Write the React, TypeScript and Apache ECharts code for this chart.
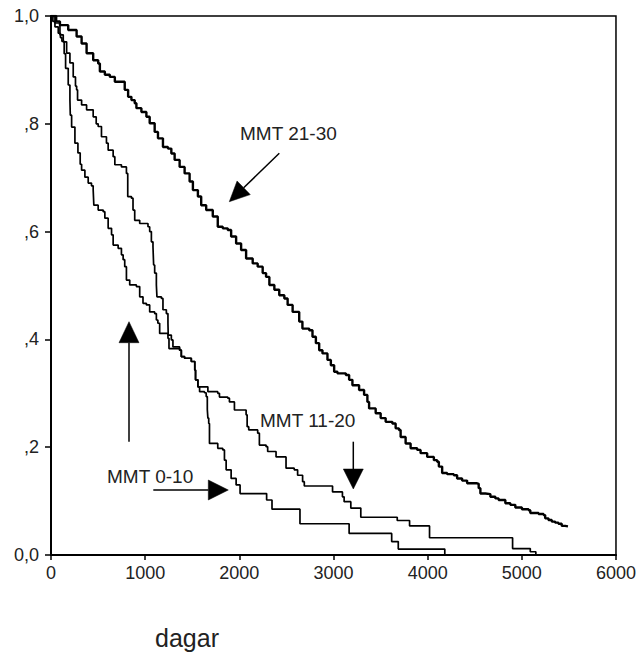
import React, { useEffect, useRef } from "react";
import * as echarts from "echarts";

// x ticks (dagar) and y ticks (cumulative survival)
const xTicks = [0, 1000, 2000, 3000, 4000, 5000, 6000];
const yTicks = [0, 0.2, 0.4, 0.6, 0.8, 1.0];

// Kaplan-Meier steps: [time of event (days), survival after event]
const mmt0_10: [number, number][] = [
  [0, 1], [20, 0.99], [42, 0.98], [77, 0.968], [100, 0.96], [116, 0.953], [140, 0.93], [155, 0.903],
  [183, 0.872], [201, 0.844], [205, 0.816], [219, 0.794], [254, 0.764], [286, 0.746], [310, 0.725],
  [325, 0.714], [360, 0.701], [395, 0.69], [430, 0.685], [448, 0.677], [455, 0.649], [501, 0.64],
  [554, 0.637], [572, 0.625], [607, 0.606], [643, 0.594], [660, 0.575], [713, 0.569], [748, 0.557],
  [766, 0.548], [783, 0.535], [801, 0.51], [836, 0.501], [907, 0.498], [942, 0.479], [977, 0.467],
  [1013, 0.464], [1048, 0.451], [1101, 0.448], [1119, 0.436], [1135, 0.43], [1154, 0.411],
  [1242, 0.402], [1253, 0.383], [1366, 0.38], [1384, 0.368], [1419, 0.365], [1490, 0.359],
  [1527, 0.343], [1535, 0.325], [1560, 0.312], [1578, 0.303], [1630, 0.301], [1648, 0.294],
  [1660, 0.27], [1666, 0.254], [1675, 0.244], [1683, 0.207], [1771, 0.198], [1824, 0.195],
  [1842, 0.176], [1860, 0.158], [1913, 0.142], [1966, 0.13], [2008, 0.114], [2290, 0.102],
  [2347, 0.085], [2644, 0.058], [3166, 0.04], [3618, 0.025], [3688, 0.011], [4182, 0.0],
];

const mmt11_20: [number, number][] = [
  [0, 1], [42, 0.987], [95, 0.965], [130, 0.952], [166, 0.931], [201, 0.913], [236, 0.887],
  [260, 0.87], [272, 0.863], [282, 0.844], [325, 0.835], [378, 0.826], [448, 0.813], [480, 0.8],
  [501, 0.795], [536, 0.776], [589, 0.764], [607, 0.751], [660, 0.739], [678, 0.724], [748, 0.72],
  [801, 0.708], [815, 0.665], [854, 0.662], [871, 0.64], [889, 0.621], [942, 0.615], [1030, 0.609],
  [1048, 0.6], [1066, 0.581], [1083, 0.572], [1090, 0.538], [1101, 0.523], [1119, 0.501],
  [1125, 0.479], [1172, 0.476], [1189, 0.455], [1225, 0.448], [1242, 0.43], [1245, 0.408],
  [1278, 0.399], [1295, 0.386], [1366, 0.38], [1384, 0.368], [1419, 0.365], [1490, 0.359],
  [1527, 0.343], [1535, 0.325], [1560, 0.312], [1666, 0.303], [1771, 0.3], [1789, 0.293],
  [1877, 0.291], [1895, 0.284], [1948, 0.269], [2072, 0.26], [2083, 0.238], [2100, 0.232],
  [2195, 0.226], [2213, 0.204], [2284, 0.201], [2301, 0.192], [2390, 0.182], [2496, 0.161],
  [2583, 0.158], [2619, 0.148], [2672, 0.136], [2690, 0.128], [2990, 0.117], [3095, 0.108],
  [3113, 0.099], [3184, 0.087], [3290, 0.07], [3677, 0.064], [3808, 0.054], [4020, 0.032],
  [4902, 0.012], [5090, 0.006], [5149, 0],
];

const mmt21_30: [number, number][] = [
  [0, 1], [55, 0.99], [95, 0.983], [183, 0.974], [272, 0.962], [325, 0.949], [378, 0.931],
  [448, 0.918], [501, 0.912], [519, 0.897], [572, 0.891], [625, 0.887], [678, 0.878], [783, 0.863],
  [819, 0.85], [854, 0.844], [889, 0.838], [907, 0.829], [960, 0.822], [1013, 0.813], [1048, 0.801],
  [1101, 0.785], [1136, 0.773], [1189, 0.757], [1242, 0.754], [1278, 0.745], [1313, 0.733],
  [1366, 0.72], [1419, 0.708], [1472, 0.693], [1507, 0.677], [1560, 0.665], [1595, 0.649],
  [1648, 0.64], [1718, 0.628], [1771, 0.609], [1824, 0.606], [1877, 0.603], [1913, 0.591],
  [1966, 0.578], [2019, 0.566], [2072, 0.55], [2142, 0.541], [2195, 0.535], [2248, 0.523],
  [2284, 0.516], [2319, 0.501], [2372, 0.492], [2424, 0.482], [2478, 0.476], [2513, 0.464],
  [2566, 0.451], [2636, 0.433], [2670, 0.42], [2742, 0.417], [2777, 0.405], [2813, 0.393],
  [2848, 0.38], [2883, 0.374], [2936, 0.362], [2972, 0.352], [3007, 0.34], [3042, 0.337],
  [3131, 0.334], [3166, 0.325], [3201, 0.315], [3272, 0.306], [3325, 0.297], [3360, 0.284],
  [3378, 0.272], [3448, 0.263], [3501, 0.254], [3554, 0.247], [3625, 0.244], [3660, 0.235],
  [3695, 0.232], [3713, 0.219], [3766, 0.207], [3819, 0.198], [3889, 0.195], [3925, 0.189],
  [3995, 0.182], [4066, 0.176], [4101, 0.173], [4119, 0.164], [4154, 0.152], [4207, 0.15],
  [4278, 0.148], [4313, 0.142], [4366, 0.138], [4419, 0.133], [4525, 0.132], [4542, 0.124],
  [4560, 0.114], [4613, 0.113], [4666, 0.108], [4719, 0.105], [4754, 0.102], [4825, 0.096],
  [4878, 0.093], [4931, 0.088], [5001, 0.085], [5072, 0.083], [5090, 0.078], [5178, 0.076],
  [5231, 0.074], [5248, 0.068], [5283, 0.065], [5318, 0.062], [5354, 0.06], [5389, 0.058],
  [5424, 0.054], [5460, 0.053], [5490, 0.052],
];

const seriesNames = ["MMT 0-10", "MMT 11-20", "MMT 21-30"];
const xTitle = "dagar";

const FONT = "'Liberation Sans', Arial, sans-serif";

function arrow(x1: number, y1: number, x2: number, y2: number, len = 20, half = 10): any[] {
  const dx = x2 - x1;
  const dy = y2 - y1;
  const d = Math.sqrt(dx * dx + dy * dy);
  const ux = dx / d;
  const uy = dy / d;
  const bx = x2 - ux * len;
  const by = y2 - uy * len;
  const px = -uy;
  const py = ux;
  return [
    {
      type: "line",
      shape: { x1, y1, x2: bx, y2: by },
      style: { stroke: "#000", lineWidth: 1.5 },
      silent: true,
    },
    {
      type: "polygon",
      shape: {
        points: [
          [x2, y2],
          [bx + px * half, by + py * half],
          [bx - px * half, by - py * half],
        ],
      },
      style: { fill: "#000", stroke: "#000", lineWidth: 0.5 },
      silent: true,
    },
  ];
}

function label(text: string, x: number, y: number, size = 19, align = "left"): any {
  return {
    type: "text",
    x,
    y,
    style: {
      text,
      fill: "#222",
      font: `${size}px ${FONT}`,
      textAlign: align,
      textVerticalAlign: "middle",
    },
    silent: true,
  };
}

export default function App() {
  const ref = useRef<HTMLDivElement>(null);
  useEffect(() => {
    document.body.style.margin = "0";
    const chart = echarts.init(ref.current!, null, { renderer: "svg" });
    const lineSeries = (name: string, data: [number, number][], width: number) => ({
      name,
      type: "line",
      step: "end",
      data,
      symbol: "none",
      lineStyle: { color: "#000", width },
      silent: true,
    });
    chart.setOption({
      animation: false,
      backgroundColor: "#fff",
      grid: {
        left: 51,
        top: 16,
        width: 566.7,
        height: 539,
        show: true,
        borderColor: "#000",
        borderWidth: 1.5,
        backgroundColor: "transparent",
      },
      xAxis: {
        type: "value",
        min: xTicks[0],
        max: xTicks[xTicks.length - 1],
        interval: 1000,
        axisLine: { show: true, onZero: false, lineStyle: { color: "#000", width: 2 } },
        axisTick: { show: true, length: 5, lineStyle: { color: "#000", width: 1.5 } },
        axisLabel: {
          fontSize: 18,
          color: "#222",
          fontFamily: FONT,
          margin: 9,
          formatter: (v: number) => String(Math.round(v)),
        },
        splitLine: { show: false },
      },
      yAxis: {
        type: "value",
        min: yTicks[0],
        max: yTicks[yTicks.length - 1],
        interval: 0.2,
        axisLine: { show: true, onZero: false, lineStyle: { color: "#000", width: 2 } },
        axisTick: { show: true, length: 6, lineStyle: { color: "#000", width: 1.5 } },
        axisLabel: {
          fontSize: 18,
          color: "#222",
          fontFamily: FONT,
          margin: 12,
          formatter: (v: number) => {
            if (Math.abs(v) < 1e-9) return "0,0";
            if (Math.abs(v - 1) < 1e-9) return "1,0";
            return "," + Math.round(v * 10);
          },
        },
        splitLine: { show: false },
      },
      series: [
        lineSeries(seriesNames[0], mmt0_10, 1.7),
        lineSeries(seriesNames[1], mmt11_20, 1.7),
        lineSeries(seriesNames[2], mmt21_30, 2.4),
      ],
      graphic: [
        label(seriesNames[2], 240, 133),
        ...arrow(279.3, 153.3, 229.3, 201.7, 20, 9.5),
        label(seriesNames[1], 260, 420.5),
        ...arrow(353.3, 441.7, 353.3, 489, 20, 10),
        label(seriesNames[0], 107, 476),
        ...arrow(153.3, 490, 228.3, 490, 20, 10),
        ...arrow(129, 441.7, 129, 321.7, 21, 10),
        label(xTitle, 187, 638, 25, "center"),
      ],
    });
    return () => chart.dispose();
  }, []);
  return (
    <div
      ref={ref}
      style={{ position: "absolute", left: 0, top: 0, width: 639, height: 659 }}
    />
  );
}
